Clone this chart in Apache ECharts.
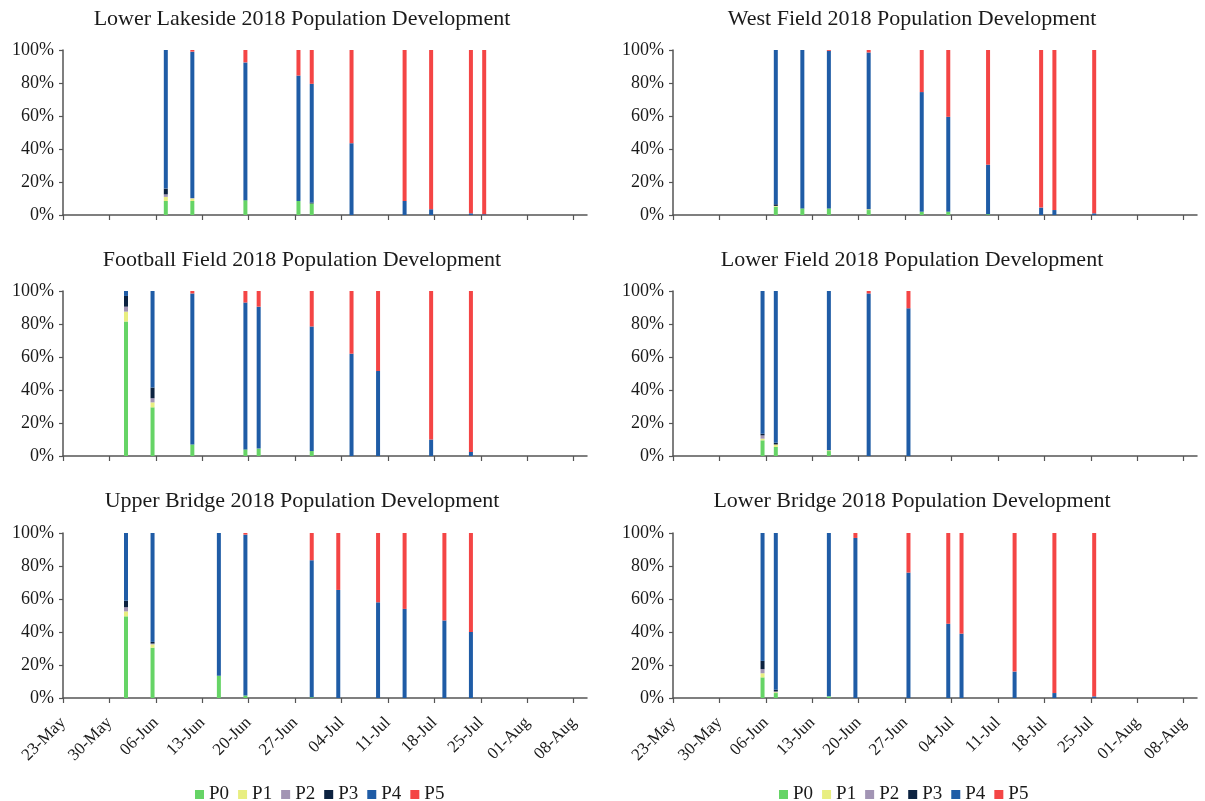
<!DOCTYPE html>
<html>
<head>
<meta charset="utf-8">
<script src="https://cdn.jsdelivr.net/npm/echarts@6/dist/echarts.min.js"></script>
<style>
html,body{margin:0;padding:0;background:#fff;}
#chart{width:1205px;height:801px;}
</style>
</head>
<body>
<div id="chart"></div>
<script>
// ---- data ----
const seriesNames = ['P0', 'P1', 'P2', 'P3', 'P4', 'P5'];
const tickLabels = ['23-May', '30-May', '06-Jun', '13-Jun', '20-Jun', '27-Jun', '04-Jul', '11-Jul', '18-Jul', '25-Jul', '01-Aug', '08-Aug'];

// Lower Lakeside
const lowerLakesideDates = ['2018-06-07', '2018-06-11', '2018-06-19', '2018-06-27', '2018-06-29', '2018-07-05', '2018-07-13', '2018-07-17', '2018-07-23', '2018-07-25'];
const lowerLakesideP0 = [8.5, 8.5, 9, 8.5, 7, 0, 0, 0, 0, 0];
const lowerLakesideP1 = [2.5, 1.5, 0, 0, 0, 0, 0, 0, 0, 0];
const lowerLakesideP2 = [1.5, 0.3, 0, 0, 0, 0, 0, 0, 0, 0];
const lowerLakesideP3 = [3.5, 0, 0, 0, 0.5, 0, 0, 0, 0, 0];
const lowerLakesideP4 = [84, 88.7, 83.5, 76, 72, 43.5, 8.5, 3.5, 1, 0.5];
const lowerLakesideP5 = [0, 1, 7.5, 15.5, 20.5, 56.5, 91.5, 96.5, 99, 99.5];

// West Field
const westFieldDates = ['2018-06-07', '2018-06-11', '2018-06-15', '2018-06-21', '2018-06-29', '2018-07-03', '2018-07-09', '2018-07-17', '2018-07-19', '2018-07-25'];
const westFieldP0 = [5, 4, 4, 3, 2, 2, 0.5, 0, 0, 0];
const westFieldP1 = [0.5, 0, 0, 0.5, 0, 0, 0, 0, 0, 0];
const westFieldP2 = [0, 0, 0, 0, 0, 0, 0, 0, 0, 0];
const westFieldP3 = [1, 0, 0, 0, 0, 0, 0, 0, 0, 0];
const westFieldP4 = [93.5, 96, 95.5, 95, 72.5, 57.5, 30, 4.5, 3, 1];
const westFieldP5 = [0, 0, 0.5, 1.5, 25.5, 40.5, 69.5, 95.5, 97, 99];

// Football Field
const footballFieldDates = ['2018-06-01', '2018-06-05', '2018-06-11', '2018-06-19', '2018-06-21', '2018-06-29', '2018-07-05', '2018-07-09', '2018-07-17', '2018-07-23'];
const footballFieldP0 = [81.5, 29.5, 7, 4, 4.5, 3, 0, 0, 0, 0];
const footballFieldP1 = [6, 3, 0, 0, 0, 0, 0, 0, 0, 0];
const footballFieldP2 = [3, 2.5, 0, 0, 0, 0, 0, 0, 0, 0];
const footballFieldP3 = [6.5, 6.5, 0, 0, 0, 0, 0, 0, 0, 0];
const footballFieldP4 = [3, 58.5, 91.5, 89, 86, 75.5, 62, 51.5, 10, 2.5];
const footballFieldP5 = [0, 0, 1.5, 7, 9.5, 21.5, 38, 48.5, 90, 97.5];

// Lower Field
const lowerFieldDates = ['2018-06-05', '2018-06-07', '2018-06-15', '2018-06-21', '2018-06-27'];
const lowerFieldP0 = [9.5, 5.5, 3, 0, 0];
const lowerFieldP1 = [1, 1.5, 0.5, 0, 0];
const lowerFieldP2 = [2, 0, 0, 0, 0];
const lowerFieldP3 = [1, 1, 0, 0, 0];
const lowerFieldP4 = [86.5, 92, 96.5, 98.5, 89.5];
const lowerFieldP5 = [0, 0, 0, 1.5, 10.5];

// Upper Bridge
const upperBridgeDates = ['2018-06-01', '2018-06-05', '2018-06-15', '2018-06-19', '2018-06-29', '2018-07-03', '2018-07-09', '2018-07-13', '2018-07-19', '2018-07-23'];
const upperBridgeP0 = [49.5, 30.5, 13.5, 1.5, 0.5, 0, 0, 0, 0, 0];
const upperBridgeP1 = [3, 2, 0, 0, 0, 0, 0, 0, 0, 0];
const upperBridgeP2 = [2.5, 0.5, 0, 0, 0, 0, 0, 0, 0, 0];
const upperBridgeP3 = [4, 1, 0, 0, 0, 0, 0, 0, 0, 0];
const upperBridgeP4 = [41, 66, 86.5, 97.5, 83, 65.5, 58, 54, 47, 40];
const upperBridgeP5 = [0, 0, 0, 1, 16.5, 34.5, 42, 46, 53, 60];

// Lower Bridge
const lowerBridgeDates = ['2018-06-05', '2018-06-07', '2018-06-15', '2018-06-19', '2018-06-27', '2018-07-03', '2018-07-05', '2018-07-13', '2018-07-19', '2018-07-25'];
const lowerBridgeP0 = [12.5, 3, 1, 0, 0, 0, 0, 0, 0, 0];
const lowerBridgeP1 = [2.5, 0.5, 0, 0, 0, 0, 0, 0, 0, 0];
const lowerBridgeP2 = [2.5, 0.5, 0, 0, 0, 0, 0, 0, 0, 0];
const lowerBridgeP3 = [5, 1, 0, 0, 0, 0, 0, 0, 0, 0];
const lowerBridgeP4 = [77.5, 95, 99, 97, 76, 45, 39, 16, 3, 1];
const lowerBridgeP5 = [0, 0, 0, 3, 24, 55, 61, 84, 97, 99];

// ---- layout / style ----
const colors = ['#66d466', '#e8ee80', '#a294b4', '#0c2240', '#1f5ca6', '#f44545'];
const FONT = 'Liberation Serif';
const DAY = 86400000;
const ORIGIN = Date.UTC(2018, 4, 23);
function dayOf(s) {
  const p = s.split('-').map(Number);
  return (Date.UTC(p[0], p[1] - 1, p[2]) - ORIGIN) / DAY;
}

const panels = [
  { title: 'Lower Lakeside 2018 Population Development', dates: lowerLakesideDates,
    vals: [lowerLakesideP0, lowerLakesideP1, lowerLakesideP2, lowerLakesideP3, lowerLakesideP4, lowerLakesideP5] },
  { title: 'West Field 2018 Population Development', dates: westFieldDates,
    vals: [westFieldP0, westFieldP1, westFieldP2, westFieldP3, westFieldP4, westFieldP5] },
  { title: 'Football Field 2018 Population Development', dates: footballFieldDates,
    vals: [footballFieldP0, footballFieldP1, footballFieldP2, footballFieldP3, footballFieldP4, footballFieldP5] },
  { title: 'Lower Field 2018 Population Development', dates: lowerFieldDates,
    vals: [lowerFieldP0, lowerFieldP1, lowerFieldP2, lowerFieldP3, lowerFieldP4, lowerFieldP5] },
  { title: 'Upper Bridge 2018 Population Development', dates: upperBridgeDates,
    vals: [upperBridgeP0, upperBridgeP1, upperBridgeP2, upperBridgeP3, upperBridgeP4, upperBridgeP5] },
  { title: 'Lower Bridge 2018 Population Development', dates: lowerBridgeDates,
    vals: [lowerBridgeP0, lowerBridgeP1, lowerBridgeP2, lowerBridgeP3, lowerBridgeP4, lowerBridgeP5] }
];

const colLeft = [63, 673];
const colTitleX = [302, 912];
const rowTop = [50, 291, 533];
const titleTop = [8, 249, 490];
const gridW = 524, gridH = 165;
const tickValues = tickLabels.map((_, i) => i * 7);
const axisColor = '#555555';

const grids = [], xAxes = [], yAxes = [], titles = [], series = [];
panels.forEach((p, i) => {
  const col = i % 2, row = Math.floor(i / 2);
  const isBottom = row === 2;
  grids.push({ left: colLeft[col], top: rowTop[row], width: gridW, height: gridH, containLabel: false });
  titles.push({
    text: p.title, left: colTitleX[col], top: titleTop[row], textAlign: 'center', padding: 0,
    textStyle: { fontFamily: FONT, fontSize: 22, fontWeight: 'normal', color: '#1a1a1a' }
  });
  xAxes.push({
    type: 'value', gridIndex: i, min: 0, max: 79,
    axisLine: { show: true, onZero: false, lineStyle: { color: axisColor, width: 1.5 } },
    axisTick: { show: true, length: 5, customValues: tickValues, lineStyle: { color: axisColor, width: 1.2 } },
    axisLabel: {
      show: isBottom, customValues: tickValues, rotate: 45, margin: 22,
      fontFamily: FONT, fontSize: 17, color: '#1a1a1a',
      formatter: v => tickLabels[Math.round(v / 7)] || ''
    },
    splitLine: { show: false }
  });
  yAxes.push({
    type: 'value', gridIndex: i, min: 0, max: 100, interval: 20,
    axisLine: { show: true, lineStyle: { color: axisColor, width: 1.5 } },
    axisTick: { show: true, length: 4, lineStyle: { color: axisColor, width: 1.2 } },
    axisLabel: { fontFamily: FONT, fontSize: 18, color: '#1a1a1a', margin: 9, formatter: '{value}%' },
    splitLine: { show: false }
  });
  seriesNames.forEach((name, k) => {
    series.push({
      name: name, type: 'bar', stack: 'stack' + i, xAxisIndex: i, yAxisIndex: i,
      barWidth: 4, itemStyle: { color: colors[k] },
      emphasis: { disabled: true },
      // value first so the library stacks the percentage dimension
      encode: { x: 1, y: 0 },
      data: p.dates.map((d, j) => [p.vals[k][j], dayOf(d) + 0.5])
    });
  });
});

const legendCommon = {
  data: seriesNames, orient: 'horizontal', top: 780, icon: 'rect',
  itemWidth: 9, itemHeight: 9, itemGap: 9,
  textStyle: { fontFamily: FONT, fontSize: 19, color: '#1a1a1a' }
};

const chart = echarts.init(document.getElementById('chart'), null, { renderer: 'canvas' });
chart.setOption({
  animation: false,
  backgroundColor: '#ffffff',
  color: colors,
  title: titles,
  legend: [
    Object.assign({}, legendCommon, { left: 190 }),
    Object.assign({}, legendCommon, { left: 774 })
  ],
  grid: grids,
  xAxis: xAxes,
  yAxis: yAxes,
  series: series
});
</script>
</body>
</html>
